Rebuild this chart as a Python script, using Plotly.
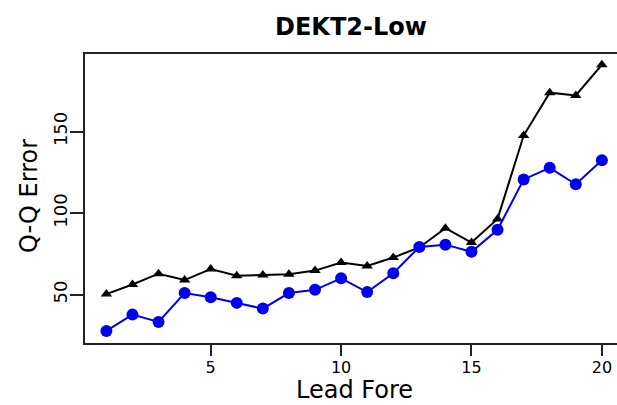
import plotly.graph_objects as go

# Lead times (forecast lead) and Q-Q error for the two series
lead = list(range(1, 21))
error_black = [50.4, 56.3, 62.9, 59.0, 65.8, 61.7, 62.1, 62.5, 64.8, 69.8,
               67.6, 72.8, 79.0, 90.8, 82.0, 96.5, 147.6, 173.9, 172.2, 191.0]
error_blue = [27.8, 37.8, 33.3, 51.0, 48.4, 45.0, 41.5, 51.0, 53.0, 60.1,
              51.6, 63.2, 79.3, 80.7, 76.3, 89.8, 120.7, 127.8, 117.7, 132.4]
x_ticks = [5, 10, 15, 20]
y_ticks = [50, 100, 150]

W, H = 617, 405
PLOT_H = H - 54 - 62

fig = go.Figure()
fig.add_trace(go.Scatter(
    x=lead, y=error_black, mode="lines+markers",
    line=dict(color="black", width=2),
    marker=dict(symbol="triangle-up", size=10, color="black"),
    showlegend=False,
))
fig.add_trace(go.Scatter(
    x=lead, y=error_blue, mode="lines+markers",
    line=dict(color="#0000ee", width=2),
    marker=dict(symbol="circle", size=12, color="#0000ee"),
    showlegend=False,
))

font_family = "DejaVu Sans"
fig.update_layout(
    width=W, height=H,
    margin=dict(l=85, r=0, t=54, b=62),
    paper_bgcolor="white", plot_bgcolor="white",
    title=dict(text="<b>DEKT2-Low</b>", x=351 / W, xanchor="center",
               y=1 - 27 / H, yanchor="middle",
               font=dict(family=font_family, size=24, color="black")),
    xaxis=dict(
        range=[0.18, 20.58], tickvals=x_ticks, showgrid=False, zeroline=False,
        showline=True, linecolor="#222", linewidth=2, mirror=True,
        ticks="outside", ticklen=11, tickwidth=2, tickcolor="#222",
        ticklabelstandoff=-2,
        tickfont=dict(family=font_family, size=16, color="black"),
    ),
    yaxis=dict(
        range=[20.4, 197.6], tickvals=y_ticks, showgrid=False, zeroline=False,
        showline=True, linecolor="#222", linewidth=2, mirror=False,
        ticks="outside", ticklen=13, tickwidth=2, tickcolor="#222",
        tickangle=-90, ticklabelstandoff=-4,
        tickfont=dict(family=font_family, size=18, color="black"),
    ),
    annotations=[
        # axis titles
        dict(text="Lead Fore", xref="paper", yref="paper",
             x=(354 - 85) / (W - 85), y=-(405 - 343) / PLOT_H,
             xanchor="center", yanchor="bottom", showarrow=False,
             borderpad=0,
             font=dict(family=font_family, size=24, color="black")),
        dict(text="Q-Q Error", xref="paper", yref="paper",
             x=-(85 - 29) / (W - 85), y=(343 - 196) / PLOT_H,
             xanchor="center", yanchor="middle", textangle=-90,
             showarrow=False,
             font=dict(family=font_family, size=24, color="black")),
    ],
)

fig.write_html("out.html")
